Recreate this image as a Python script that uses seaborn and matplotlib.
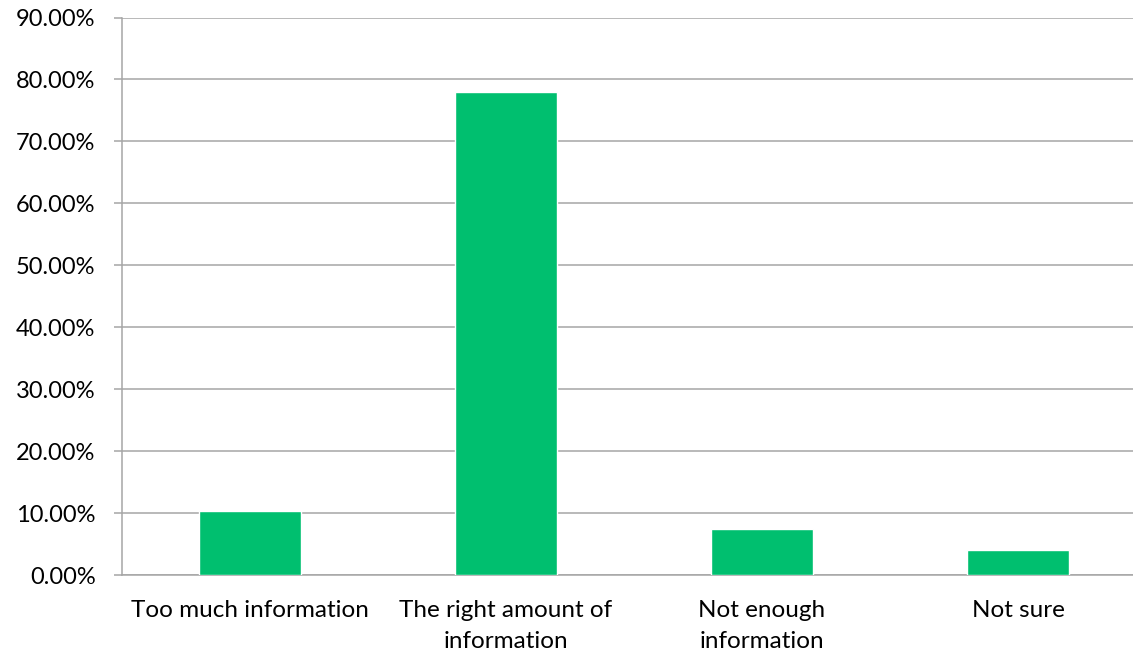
import pandas as pd
import matplotlib
matplotlib.use("Agg")
import matplotlib.pyplot as plt
import seaborn as sns
from matplotlib.ticker import PercentFormatter, FixedLocator

# ============================================
# Data
# ============================================
categories = ["Too much information", "The right amount of\ninformation",
              "Not enough\ninformation", "Not sure"]
shares = [10.38, 78.06, 7.47, 4.04]
y_ticks = [0, 10, 20, 30, 40, 50, 60, 70, 80, 90]

df = pd.DataFrame({"answer": categories, "share": shares})

sns.set_style("white")
plt.rcParams["font.family"] = ["Lato", "DejaVu Sans"]
plt.rcParams["text.color"] = "black"

GRID = "#A6A6A6"
BAR = "#00BF6F"

fig = plt.figure(figsize=(11.33, 6.54), dpi=100)
ax = fig.add_axes([122 / 1133, 78.7 / 654, 1024 / 1133, 557.8 / 654])

sns.barplot(data=df, x="answer", y="share", color=BAR, width=0.4,
            saturation=1, ax=ax, zorder=3)

ax.set_xlim(-0.5, 3.5)
ax.set_ylim(0, 90)
ax.yaxis.set_major_locator(FixedLocator(y_ticks))
ax.yaxis.set_major_formatter(PercentFormatter(xmax=100, decimals=2))
ax.grid(axis="y", color=GRID, linewidth=1.1, zorder=0)
ax.set_axisbelow(True)

for side in ["top", "right"]:
    ax.spines[side].set_visible(False)
for side in ["left", "bottom"]:
    ax.spines[side].set_color(GRID)
    ax.spines[side].set_linewidth(1.1)

# category boundary ticks on x axis
ax.set_xticks([-0.5, 0.5, 1.5, 2.5, 3.5], minor=True)
ax.tick_params(axis="x", which="minor", length=6, width=1.1, color=GRID)
ax.tick_params(axis="x", which="major", length=0, pad=18, labelsize=17.5,
               labelcolor="black")
ax.tick_params(axis="y", length=6, width=1.1, color=GRID, pad=13, labelsize=17,
               left=True, labelcolor="black")
for lbl in ax.get_xticklabels():
    lbl.set_linespacing(1.6)

ax.set_xlabel("")
ax.set_ylabel("")

plt.savefig("out.png", dpi=100)
plt.close()
